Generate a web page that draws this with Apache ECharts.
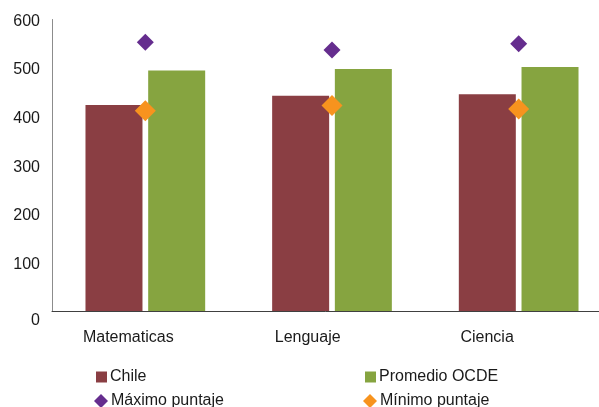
<!DOCTYPE html>
<html>
<head>
<meta charset="utf-8">
<script src="https://cdn.jsdelivr.net/npm/echarts@6/dist/echarts.min.js"></script>
<style>
  html, body { margin: 0; padding: 0; background: #ffffff; }
  #chart { width: 599px; height: 407px; }
</style>
</head>
<body>
<div id="chart"></div>
<script>
// PISA scores by subject
const categories = ['Matematicas', 'Lenguaje', 'Ciencia'];
const chile = [424, 443, 446];
const promedioOcde = [495, 498, 502];
const maximoPuntaje = [553, 537, 550];
const minimoPuntaje = [412, 423, 416];
const yTicks = [0, 100, 200, 300, 400, 500, 600];

const FONT = '"Liberation Sans", Arial, sans-serif';
const TEXT = '#1a1a1a';

const chart = echarts.init(document.getElementById('chart'), null, { renderer: 'canvas' });

function legendItem(name, icon, left, top, w, h) {
  return {
    data: [name],
    icon: icon,
    left: left,
    top: top,
    padding: 0,
    itemWidth: w,
    itemHeight: h,
    selectedMode: false,
    textStyle: { fontFamily: FONT, fontSize: 16, color: TEXT, padding: [0, 0, 0, -2] }
  };
}

chart.setOption({
  animation: false,
  backgroundColor: '#ffffff',
  grid: [
    // plot area runs past the right edge of the canvas
    { left: 52, width: 560, top: 19.5, bottom: 96, outerBoundsMode: 'none', containLabel: false },
    { left: 38.6, right: 22.2, top: 19.5, bottom: 96, outerBoundsMode: 'none', containLabel: false }
  ],
  legend: [
    legendItem('Chile', 'rect', 96, 369, 11, 11),
    legendItem('Máximo puntaje', 'diamond', 94, 393, 14, 14),
    legendItem('Promedio OCDE', 'rect', 365, 369, 11, 11),
    legendItem('Mínimo puntaje', 'diamond', 363, 393, 14, 14)
  ],
  xAxis: [
    {
      gridIndex: 0,
      type: 'category',
      data: categories,
      axisLine: { lineStyle: { color: '#404040', width: 1 } },
      axisTick: { show: false },
      axisLabel: { show: false }
    },
    {
      gridIndex: 1,
      type: 'category',
      data: categories,
      axisLine: { show: false },
      axisTick: { show: false },
      axisLabel: { fontFamily: FONT, fontSize: 16, color: TEXT, margin: 19 }
    }
  ],
  yAxis: [
    {
      gridIndex: 0,
      type: 'value',
      min: yTicks[0],
      max: yTicks[yTicks.length - 1],
      interval: yTicks[1] - yTicks[0],
      axisLine: { show: true, lineStyle: { color: '#8c8c8c', width: 1 } },
      axisTick: { show: false },
      splitLine: { show: false },
      axisLabel: {
        margin: 12,
        fontFamily: FONT,
        fontSize: 16,
        color: TEXT,
        formatter: v => (v === 0 ? '{z|0}' : '{n|' + v + '}'),
        rich: {
          z: { fontFamily: FONT, fontSize: 16, color: TEXT, padding: [20, 0, 0, 0] },
          n: { fontFamily: FONT, fontSize: 16, color: TEXT, padding: [4, 0, 0, 0] }
        }
      }
    },
    { gridIndex: 1, type: 'value', show: false, min: 0, max: 600 }
  ],
  series: [
    {
      name: 'Chile',
      type: 'bar',
      xAxisIndex: 0,
      yAxisIndex: 0,
      data: chile,
      barWidth: 57,
      barGap: '10%',
      itemStyle: { color: '#8a3e43' }
    },
    {
      name: 'Promedio OCDE',
      type: 'bar',
      xAxisIndex: 0,
      yAxisIndex: 0,
      data: promedioOcde,
      barWidth: 57,
      barGap: '10%',
      itemStyle: { color: '#86a440' }
    },
    {
      name: 'Máximo puntaje',
      type: 'scatter',
      xAxisIndex: 0,
      yAxisIndex: 0,
      data: maximoPuntaje,
      symbol: 'diamond',
      symbolSize: [17, 17],
      z: 5,
      itemStyle: { color: '#652d8e', opacity: 1 }
    },
    {
      name: 'Mínimo puntaje',
      type: 'scatter',
      xAxisIndex: 0,
      yAxisIndex: 0,
      data: minimoPuntaje,
      symbol: 'diamond',
      symbolSize: [21, 21],
      z: 5,
      itemStyle: { color: '#f7931e', opacity: 1 }
    }
  ]
});
</script>
</body>
</html>
